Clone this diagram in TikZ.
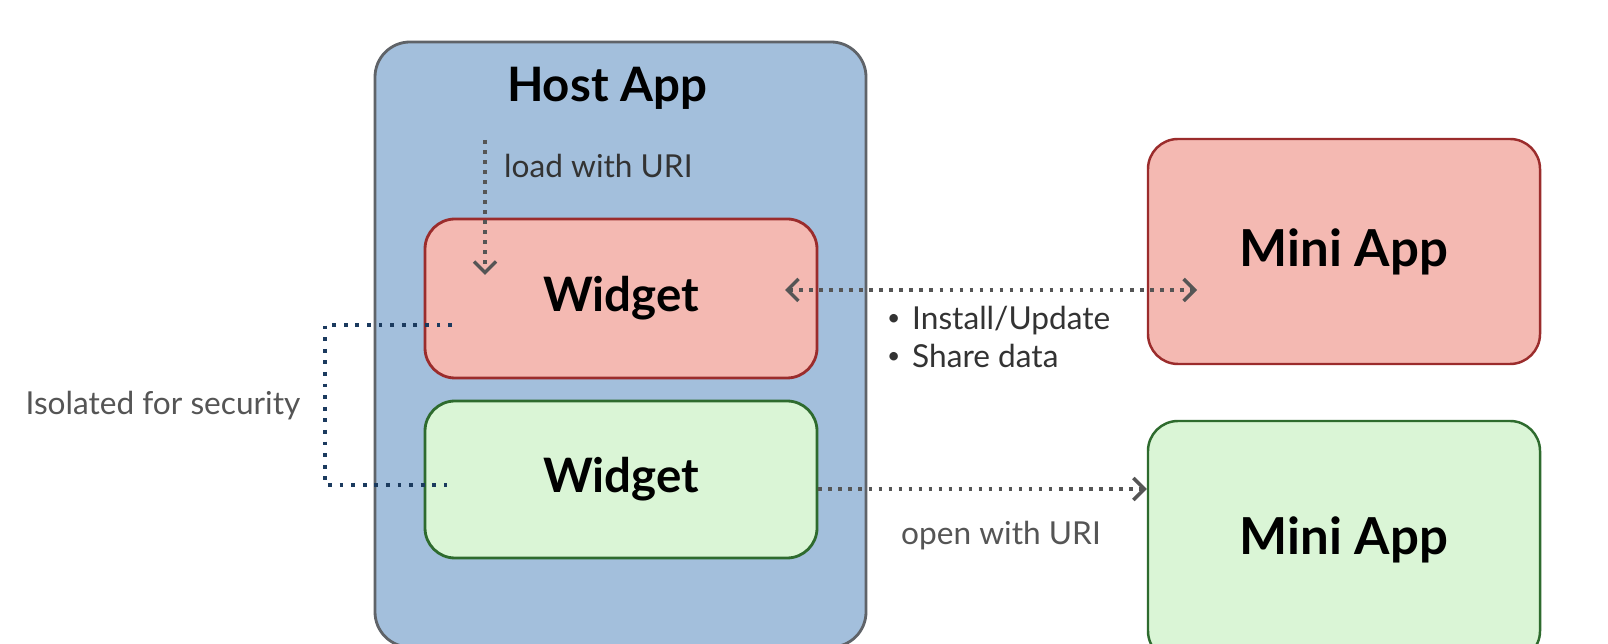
\documentclass[tikz,border=0pt]{standalone}
\usepackage{fontspec}
\setmainfont{Lato}
\usepackage{xcolor}
\usepackage{tikz}
\usetikzlibrary{arrows.meta,positioning,calc}

\definecolor{hostfill}{HTML}{A3BFDC}
\definecolor{hostline}{HTML}{5F6368}
\definecolor{redfill}{HTML}{F4B9B2}
\definecolor{redline}{HTML}{9B2C2C}
\definecolor{greenfill}{HTML}{DAF5D6}
\definecolor{greenline}{HTML}{2E6B2E}
\definecolor{flowgray}{HTML}{555555}
\definecolor{isoblue}{HTML}{1B3A5E}
\definecolor{labelgray}{HTML}{333333}

\begin{document}
\begin{tikzpicture}[
        box/.style={rounded corners=0.6cm, line width=1.6pt, inner sep=0pt},
        hostbox/.style={box, rounded corners=0.7cm, fill=hostfill, draw=hostline, minimum width=9.82cm, minimum height=12.1cm},
        redbox/.style={box, fill=redfill, draw=redline},
        greenbox/.style={box, fill=greenfill, draw=greenline},
        title/.style={font=\fontsize{27}{30}\selectfont\bfseries},
        note/.style={font=\fontsize{18}{21.5}\selectfont, text=labelgray},
        flow/.style={draw=flowgray, line width=2.1pt, dash pattern=on 2.1pt off 3.6pt,
            -{Straight Barb[length=0.22cm, width=0.44cm, line width=2pt]}},
        bothflow/.style={flow, {Straight Barb[length=0.22cm, width=0.44cm, line width=2pt]}-{Straight Barb[length=0.22cm, width=0.44cm, line width=2pt]}},
        isoline/.style={draw=isoblue, line width=2.2pt, dash pattern=on 2.2pt off 4.4pt}]
    \clip (0,0) rectangle (32.16,12.88);
    \fill[white] (0,0) rectangle (32.16,12.88);

    % host app
    \node[hostbox] (host) at (12.41,5.99) {};
    \node[title] (hosttitle) at (12.14,11.12) {Host App};

    % widgets
    \node[redbox, minimum width=7.84cm, minimum height=3.18cm] (widget1) at (12.42,6.91) {};
    \node[title] at (widget1.center) {Widget};
    \node[greenbox, minimum width=7.84cm, minimum height=3.14cm] (widget2) at (12.42,3.29) {};
    \node[title] at (widget2.center) {Widget};

    % mini apps
    \node[redbox, line width=1.4pt, minimum width=7.84cm, minimum height=4.5cm] (mini1) at (26.88,7.85) {};
    \node[title, font=\fontsize{29}{32}\selectfont\bfseries] at (mini1.center) {Mini App};
    \node[greenbox, line width=1.4pt, minimum width=7.84cm, minimum height=4.8cm] (mini2) at (26.88,2.06) {};
    \node[title, font=\fontsize{29}{32}\selectfont\bfseries] at (26.88,2.08) {Mini App};

    % connectors
    \coordinate (loadtop) at (9.7,10.08);
    \coordinate (loadend) at (9.7,7.38);
    \draw[flow] (loadtop) -- (loadend);
    \node[note, anchor=west] (loadlabel) at (9.96,9.56) {load with URI};

    \coordinate (shareleft) at (15.7,7.08);
    \coordinate (shareright) at (23.94,7.08);
    \draw[bothflow] (shareleft) -- (shareright);
    \node[note, anchor=north west, align=left] (sharelabel) at (17.62,6.88)
        {\makebox[0.5cm][l]{\raisebox{0.12em}{\fontsize{13}{13}\selectfont\textbullet}}Install/Update\\
         \makebox[0.5cm][l]{\raisebox{0.12em}{\fontsize{13}{13}\selectfont\textbullet}}Share data};

    \coordinate (openstart) at (widget2.east |- 0,3.1);
    \draw[flow] (openstart) -- (mini2.west |- openstart);
    \node[note, text=flowgray] (openlabel) at (20.02,2.16) {open with URI};

    % isolation bracket
    \coordinate (isotop) at (9.04,6.38);
    \coordinate (isobottom) at (8.94,3.18);
    \draw[isoline] (isotop) -- (6.5,6.38) -- (6.5,3.18) -- (isobottom);
    \node[note, text=flowgray] (isolabel) at (3.26,4.76) {Isolated for security};
\end{tikzpicture}
\end{document}
